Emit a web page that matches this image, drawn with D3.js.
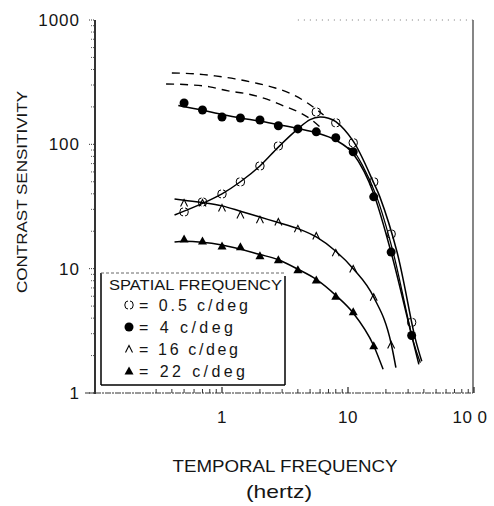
<!DOCTYPE html>
<html><head><meta charset="utf-8">
<script src="https://cdn.jsdelivr.net/npm/d3@7/dist/d3.min.js"></script>
<style>body{margin:0;background:#fff;} svg{display:block;} text{font-family:"Liberation Sans",Arial,sans-serif;fill:#151515;}</style>
</head><body><svg id="c" width="494" height="506"></svg>
<script>
// temporal frequencies (Hz)
const tf = [0.5,0.7,1,1.4,2,2.8,4,5.6,8,11,16,22,32];
// contrast sensitivity per spatial frequency
const cs05 = [28.6,34.4,39.9,49.9,67,97,null,182,149,103,49.9,19,3.7];
const cs4  = [215,189,166,163,157,141,133,126,113,87,37.8,13.6,2.9];
const cs16 = [33.8,33.8,30.8,27,24.7,23.7,20.9,18.3,13.4,9.95,5.9,2.43];
const cs22 = [17.3,16.7,15.2,15,12.7,11.8,9.8,8.1,6.0,4.5,2.4];
// fitted curves [Hz, sensitivity]
const fit05 = [[0.42,27],[0.5,29],[0.7,33.5],[1,40],[1.4,50],[2,67],[2.8,95],[4,133],[5,158],[6,166],[7,162],[8,152],[11,106],[16,49],[17.9,37.8],[24.5,13.6],[34,2.8],[38.5,1.8]];
const fit4  = [[0.45,205],[0.7,188],[1,174],[1.4,163],[2,154],[2.8,144],[4,134],[5.6,124],[8,108],[11,84],[16,40],[22,13.5],[32,2.9],[36.5,1.7]];
const fitMid = [[10,94],[11,89],[13,68],[16.9,37.8],[22.8,13.6],[33,2.6],[37.5,1.75]];
const fit16 = [[0.42,36.4],[0.5,35.5],[0.7,34],[1,32],[1.4,29],[2,26],[2.8,23.5],[4,21],[5.6,18],[8,13.8],[11,10],[16,5.9],[22,2.5],[24,1.6]];
const fit22 = [[0.42,16.4],[0.5,16.6],[1,15.5],[2,13],[2.8,11.8],[4,9.9],[5.6,8.2],[8,6.1],[11,4.4],[16,2.4],[19,1.55]];
const dashUpper = [[0.4,375],[0.61,369],[0.88,355],[1.27,336],[1.83,312],[2.65,284],[3.69,250],[4.77,215],[6.4,172]];
const dashLower = [[0.36,306],[0.56,301],[0.8,290],[1.12,269],[1.58,255],[2.24,232],[3.07,204],[4.19,179],[5.2,156],[6,138]];
// ticks and labels
const yTicks = [1,10,100,1000];
const xTicks = [1,10,100];
const xTickLabels = ["1","10","10 0"];
const legendTitle = "SPATIAL FREQUENCY";
const legendLabels = ["= 0.5  c/deg","= 4  c/deg","= 16  c/deg","= 22  c/deg"];
const yTitle = "CONTRAST SENSITIVITY";
const xTitle = "TEMPORAL FREQUENCY";
const xUnit = "(hertz)";

const svg = d3.select("#c");
const x = d3.scaleLog().domain([0.1,100]).range([96,474]);
const y = d3.scaleLog().domain([1,1000]).range([393,20]);
const L=95, R=473, T=20, B=393;

// frame
svg.append("line").attr("x1",L).attr("x2",L).attr("y1",T).attr("y2",B+1).attr("stroke","#000").attr("stroke-width",1.6);
svg.append("line").attr("x1",R).attr("x2",R).attr("y1",T).attr("y2",B).attr("stroke","#444").attr("stroke-width",1.3);
svg.append("line").attr("x1",85).attr("x2",R).attr("y1",B).attr("y2",B).attr("stroke","#333").attr("stroke-width",1).attr("stroke-dasharray","6,1,2,1");
svg.append("line").attr("x1",x(4)).attr("x2",R).attr("y1",T).attr("y2",T).attr("stroke","#777").attr("stroke-width",1).attr("stroke-dasharray","1,5");

// minor ticks
const minorX = [];
for (let d of [0.1,1,10]) for (let k=2;k<=9;k++) minorX.push(d*k);
const gx = svg.append("g");
gx.selectAll("line.mx").data(minorX.filter(v=>v>=0.3)).join("line")
  .attr("x1",d=>x(d)).attr("x2",d=>x(d)).attr("y1",B).attr("y2",B-4).attr("stroke","#333").attr("stroke-width",1);
gx.selectAll("line.Mx").data(xTicks).join("line")
  .attr("x1",d=>x(d)).attr("x2",d=>x(d)).attr("y1",B).attr("y2",B-6).attr("stroke","#222").attr("stroke-width",1.2);
const minorY = [];
for (let d of [1,10,100]) for (let k=2;k<=9;k++) minorY.push(d*k);
svg.append("g").selectAll("line").data(minorY).join("line")
  .attr("x1",L-4).attr("x2",L).attr("y1",d=>y(d)).attr("y2",d=>y(d)).attr("stroke","#555").attr("stroke-width",1).attr("stroke-dasharray","1,1");
svg.append("g").selectAll("line").data(yTicks).join("line")
  .attr("x1",L-6).attr("x2",L).attr("y1",d=>y(d)).attr("y2",d=>y(d)).attr("stroke","#333").attr("stroke-width",1).attr("stroke-dasharray","1,1");

// tick labels
svg.append("g").selectAll("text").data(yTicks).join("text")
  .attr("x",80).attr("y",d=>y(d)+6).attr("text-anchor","end")
  .attr("font-size",17).attr("letter-spacing",1).text(d=>String(d));
svg.append("g").selectAll("text").data(xTicks).join("text")
  .attr("x",(d,i)=>x(d)-(i==2?4:0)).attr("y",423).attr("text-anchor","middle")
  .attr("font-size",17).attr("letter-spacing",0.5).text((d,i)=>xTickLabels[i]);

// titles
svg.append("text").attr("transform","translate(27,192) rotate(-90)").attr("text-anchor","middle")
  .attr("font-size",15).attr("textLength",202).attr("lengthAdjust","spacingAndGlyphs").text(yTitle);
svg.append("text").attr("x",285).attr("y",472).attr("text-anchor","middle")
  .attr("font-size",16).attr("textLength",225).attr("lengthAdjust","spacingAndGlyphs").text(xTitle);
svg.append("text").attr("x",279).attr("y",498).attr("text-anchor","middle")
  .attr("font-size",19).attr("textLength",66).attr("lengthAdjust","spacingAndGlyphs").text(xUnit);

// curves
const line = d3.line().x(d=>x(d[0])).y(d=>y(d[1])).curve(d3.curveMonotoneX);
const lineC = d3.line().x(d=>x(d[0])).y(d=>y(d[1])).curve(d3.curveCatmullRom);
const g = svg.append("g").attr("fill","none").attr("stroke","#000");
[fit4,fit16,fit22].forEach(f=>g.append("path").attr("d",line(f)).attr("stroke-width",1.5));
g.append("path").attr("d",lineC(fit05)).attr("stroke-width",1.5);
g.append("path").attr("d",lineC(fitMid)).attr("stroke-width",1.3);
[dashUpper,dashLower].forEach(f=>g.append("path").attr("d",line(f)).attr("stroke-width",1.4).attr("stroke-dasharray","8,6"));

// markers
const pts = (arr)=>arr.map((v,i)=>[tf[i],v]).filter(d=>d[1]!=null);
const mk = svg.append("g");
function openCircle(sel){
  sel.append("path").attr("d","M-1,-4 A3.2,4 0 0,0 -1,4 M1,-4 A3.2,4 0 0,1 1,4")
    .attr("fill","none").attr("stroke","#000").attr("stroke-width",1);
}
function filledCircle(sel){ sel.append("circle").attr("r",4.5).attr("fill","#000"); }
function openTri(sel){ sel.append("path").attr("d","M-3.5,3.5 L0,-3.5 L3.5,3.5").attr("fill","none").attr("stroke","#000").attr("stroke-width",1.1); }
function filledTri(sel){ sel.append("path").attr("d","M-4.5,3.5 L0,-4.5 L4.5,3.5Z").attr("fill","#000"); }
const series = [[cs05,openCircle],[cs16,openTri],[cs22,filledTri],[cs4,filledCircle]];
series.forEach(([arr,fn])=>{
  mk.append("g").selectAll("g").data(pts(arr)).join("g")
    .attr("transform",d=>`translate(${x(d[0])},${y(d[1])})`).each(function(){fn(d3.select(this));});
});

// legend
const lg = svg.append("g");
lg.append("rect").attr("x",101).attr("y",273).attr("width",184).attr("height",112).attr("fill","#fff").attr("stroke","none");
lg.append("line").attr("x1",101).attr("x2",101).attr("y1",273).attr("y2",385).attr("stroke","#000").attr("stroke-width",1.5);
lg.append("line").attr("x1",285).attr("x2",285).attr("y1",276).attr("y2",385).attr("stroke","#000").attr("stroke-width",1.5);
lg.append("line").attr("x1",101).attr("x2",285).attr("y1",385).attr("y2",385).attr("stroke","#000").attr("stroke-width",1.3);
lg.append("line").attr("x1",101).attr("x2",285).attr("y1",273).attr("y2",273).attr("stroke","#666").attr("stroke-width",1).attr("stroke-dasharray","3,2");
lg.append("text").attr("x",109).attr("y",290).attr("font-size",14).attr("textLength",173).attr("lengthAdjust","spacingAndGlyphs").text(legendTitle);
const legY = [305,327,349,371];
const legLen = [110,95,100,107];
const legFns = [openCircle,filledCircle,openTri,filledTri];
legendLabels.forEach((t,i)=>{
  const gg = lg.append("g").attr("transform",`translate(129,${legY[i]})`);
  legFns[i](gg);
  lg.append("text").attr("x",139).attr("y",legY[i]+6).attr("font-size",16).attr("textLength",legLen[i]-1).attr("lengthAdjust","spacing").text(t);
});
</script></body></html>
